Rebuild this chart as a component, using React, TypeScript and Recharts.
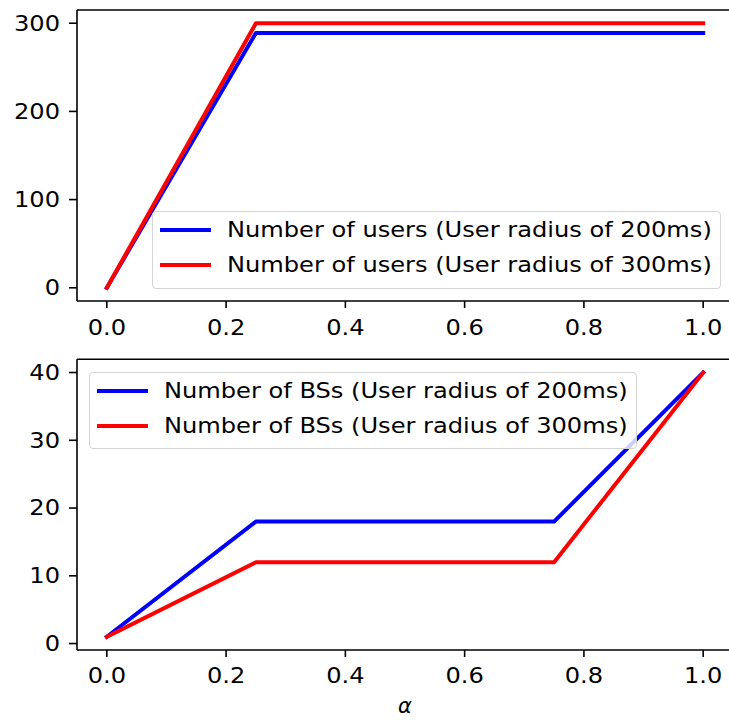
import React from 'react';
import { LineChart, Line, XAxis, YAxis, Legend, ReferenceLine, Label } from 'recharts';

// ---- data ----
const alphaTop = [0, 0.25, 0.5, 0.75, 1.0];
const users200 = [0, 289, 289, 289, 289];
const users300 = [0, 300, 300, 300, 300];
const alphaBottom = [0, 0.25, 0.5, 0.75, 1.0];
const bs200 = [1, 18, 18, 18, 40];
const bs300 = [1, 12, 12, 12, 40];
const xTicks = [0, 0.2, 0.4, 0.6, 0.8, 1.0];
const usersTicks = [0, 100, 200, 300];
const bsTicks = [0, 10, 20, 30, 40];
const topNames = ['Number of users (User radius of 200ms)', 'Number of users (User radius of 300ms)'];
const bottomNames = ['Number of BSs (User radius of 200ms)', 'Number of BSs (User radius of 300ms)'];
const xLabel = 'α';

const topData = alphaTop.map((a, i) => ({ alpha: a, s200: users200[i], s300: users300[i] }));
const bottomData = alphaBottom.map((a, i) => ({ alpha: a, s200: bs200[i], s300: bs300[i] }));

// ---- style ----
const FONT = '"DejaVu Sans", sans-serif';
const FS = 21;
const SX = 1.148;
const BLUE = '#0000ff';
const RED = '#ff0000';
const SPINE = 1.6;
const LW = 4;

const XTick = (props: any) => {
  const { x, y, payload } = props;
  return (
    <text transform={`translate(${x},${y}) scale(${SX},1)`} textAnchor="middle" dy="0.71em"
      fontSize={FS} fontFamily={FONT} fill="#000">
      {Number(payload.value).toFixed(1)}
    </text>
  );
};

const YTick = (props: any) => {
  const { x, y, payload } = props;
  return (
    <text transform={`translate(${x},${y}) scale(${SX},1)`} textAnchor="end" dy="0.355em"
      fontSize={FS} fontFamily={FONT} fill="#000">
      {String(payload.value)}
    </text>
  );
};

const LegendBox = ({ payload, width }: any) => {
  const B = 1.3;
  return (
    <div style={{
      position: 'relative', width, height: 77.6, boxSizing: 'border-box',
      border: `${B}px solid #d4d4d4`, borderRadius: 4, background: 'rgba(255,255,255,0.8)',
      fontFamily: FONT, fontSize: FS, color: '#000',
    }}>
      {(payload || []).map((e: any, i: number) => {
        const cy = 19.3 + i * 35.4 - B;
        return (
          <React.Fragment key={i}>
            <div style={{ position: 'absolute', left: 8 - B, top: cy - LW / 2, width: 51, height: LW, background: e.color }} />
            <div style={{
              position: 'absolute', left: 75.5 - B, top: cy, lineHeight: 1, whiteSpace: 'nowrap',
              transform: `translateY(-50%) scaleX(${SX})`, transformOrigin: 'left center',
            }}>{e.value}</div>
          </React.Fragment>
        );
      })}
    </div>
  );
};

const AlphaLabel = (props: any) => {
  const vb = props.viewBox || {};
  return (
    <text x={vb.x + vb.width / 2} y={vb.y + vb.height - 10.7} textAnchor="middle"
      fontSize={FS} fontFamily={FONT} fontStyle="italic" fill="#000">{xLabel}</text>
  );
};

const axisCommon = {
  axisLine: { stroke: '#000', strokeWidth: SPINE },
  tickLine: { stroke: '#000', strokeWidth: SPINE },
};

export default function App() {
  return (
    <div style={{ position: 'absolute', left: 0, top: 0, width: 729, height: 724, overflow: 'hidden', background: '#fff' }}>
      <div style={{ position: 'absolute', left: 0, top: 0 }}>
        <LineChart width={740} height={345} data={topData} margin={{ top: 10, right: 7, bottom: 0, left: 0 }}>
          <XAxis dataKey="alpha" type="number" domain={[-0.05, 1.05]} ticks={xTicks} allowDataOverflow
            height={44} tickSize={7} tickMargin={12} tick={<XTick />} {...axisCommon} />
          <YAxis type="number" domain={[-15, 315]} ticks={usersTicks} allowDataOverflow
            width={77} tickSize={8} tickMargin={9} tick={<YTick />} {...axisCommon} />
          <ReferenceLine y={315} stroke="#000" strokeWidth={SPINE} />
          <ReferenceLine x={1.05} stroke="#000" strokeWidth={SPINE} />
          <Line dataKey="s200" name={topNames[0]} stroke={BLUE} strokeWidth={LW} dot={false}
            strokeLinecap="square" strokeLinejoin="round" isAnimationActive={false} type="linear" />
          <Line dataKey="s300" name={topNames[1]} stroke={RED} strokeWidth={LW} dot={false}
            strokeLinecap="square" strokeLinejoin="round" isAnimationActive={false} type="linear" />
          <Legend layout="vertical" align="center" verticalAlign="middle"
            wrapperStyle={{ left: 152, top: 211, width: 569, height: 77.6 }}
            content={(p: any) => <LegendBox payload={p.payload} width={569} />} />
        </LineChart>
      </div>
      <div style={{ position: 'absolute', left: 0, top: 345 }}>
        <LineChart width={740} height={379} data={bottomData} margin={{ top: 14.3, right: 7, bottom: 0, left: 0 }}>
          <XAxis dataKey="alpha" type="number" domain={[-0.05, 1.05]} ticks={xTicks} allowDataOverflow
            height={74} tickSize={7} tickMargin={11.5} tick={<XTick />} {...axisCommon}>
            <Label content={<AlphaLabel />} />
          </XAxis>
          <YAxis type="number" domain={[-0.95, 41.95]} ticks={bsTicks} allowDataOverflow
            width={77} tickSize={8} tickMargin={9} tick={<YTick />} {...axisCommon} />
          <ReferenceLine y={41.95} stroke="#000" strokeWidth={SPINE} />
          <ReferenceLine x={1.05} stroke="#000" strokeWidth={SPINE} />
          <Line dataKey="s200" name={bottomNames[0]} stroke={BLUE} strokeWidth={LW} dot={false}
            strokeLinecap="square" strokeLinejoin="round" isAnimationActive={false} type="linear" />
          <Line dataKey="s300" name={bottomNames[1]} stroke={RED} strokeWidth={LW} dot={false}
            strokeLinecap="square" strokeLinejoin="round" isAnimationActive={false} type="linear" />
          <Legend layout="vertical" align="center" verticalAlign="middle"
            wrapperStyle={{ left: 89, top: 26.7, width: 548.3, height: 77.6 }}
            content={(p: any) => <LegendBox payload={p.payload} width={548.3} />} />
        </LineChart>
      </div>
    </div>
  );
}
